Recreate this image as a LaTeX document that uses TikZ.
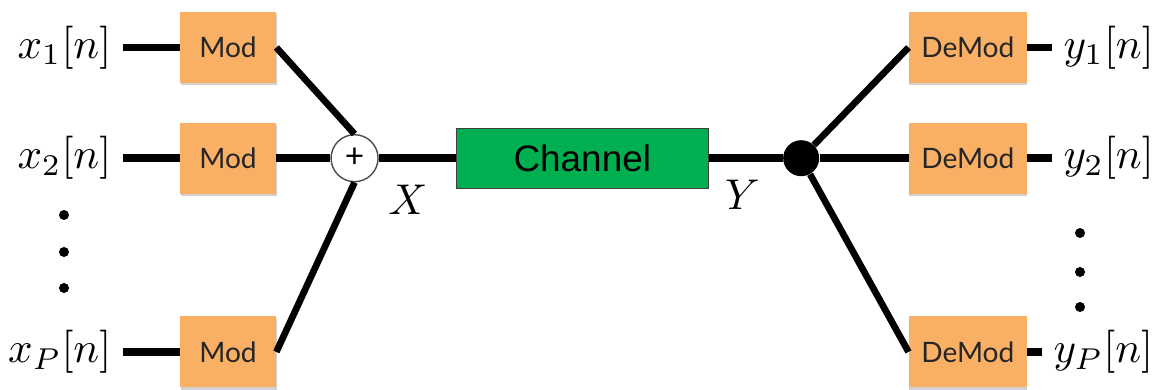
\documentclass[tikz,border=0pt]{standalone}
\usepackage{fontspec}
\usepackage{amsmath}
\usepackage{graphicx}
\usepackage{xcolor}
\usepackage{tikz}
\usetikzlibrary{positioning, shadows}

\newfontfamily\boxfont{Lato}
\newfontfamily\chanfont{Liberation Sans}
\definecolor{modorange}{RGB}{249,176,101}
\definecolor{changreen}{RGB}{0,176,80}
\newcommand{\bigsig}[1]{\scalebox{2.45}{$#1$}}

\begin{document}
\begin{tikzpicture}[
  mod/.style={
    rectangle, fill=modorange, draw=none,
    minimum width=1.92cm, minimum height=1.42cm,
    font=\fontsize{16}{18}\selectfont\boxfont, text=black!85,
    drop shadow={shadow xshift=0.3pt, shadow yshift=-1.3pt,
                 opacity=0.3, fill=black!60}},
  demod/.style={mod, minimum width=2.36cm},
  chan/.style={
    rectangle, draw=black!75, line width=0.6pt, fill=changreen,
    minimum width=5.04cm, minimum height=1.2cm,
    font=\fontsize{21}{24}\selectfont\chanfont},
  adder/.style={
    circle, draw=black!70, line width=0.8pt, fill=white,
    minimum size=0.94cm, inner sep=0pt,
    font=\fontsize{19}{19}\selectfont\boxfont},
  split/.style={circle, fill=black, minimum size=0.72cm, inner sep=0pt},
  sig/.style={inner sep=0.22cm},
  wire/.style={line width=4.4pt},
  branch/.style={line width=3.8pt}
]

\useasboundingbox (0,0) rectangle (23.16,7.8);

%% Modulators and adder
\node[mod]                       (mod1) at (4.56,6.85) {Mod};
\node[mod, below=0.78cm of mod1] (mod2) {Mod};
\node[mod, below=2.44cm of mod2] (modP) {Mod};
\node[adder, right=1.08cm of mod2] (sum) {\raisebox{-2pt}{+}};

%% Channel and splitter
\node[chan,  right=1.54cm of sum]  (chan) {Channel};
\node[split, right=1.48cm of chan] (dot)  {};

%% Demodulators
\node[demod, right=1.78cm of dot]     (demod2) {DeMod};
\node[demod, above=0.78cm of demod2]  (demod1) {DeMod};
\node[demod, below=2.44cm of demod2]  (demodP) {DeMod};

%% Signals
\node[sig, left=1.14cm of mod1]    (x1) {\bigsig{x_1[n]}};
\node[sig, left=1.14cm of mod2]    (x2) {\bigsig{x_2[n]}};
\node[sig, left=1.14cm of modP]    (xP) {\bigsig{x_P[n]}};
\node[sig, right=0.5cm of demod1]  (y1) {\bigsig{y_1[n]}};
\node[sig, right=0.5cm of demod2]  (y2) {\bigsig{y_2[n]}};
\node[sig, right=0.3cm of demodP]  (yP) {\bigsig{y_P[n]}};
\node[sig] (xlab) at (8.16,3.8) {\bigsig{X}};
\node[sig] (ylab) at (14.85,3.9) {\bigsig{Y}};

%% Vertical dots
\foreach \y in {3.5,2.76,2.04}
  \fill (1.28,\y) circle (0.1);
\foreach \y in {3.14,2.36,1.66}
  \fill (21.6,\y) circle (0.1);

%% Wires
\draw[wire] (x1) -- (mod1);
\draw[wire] (x2) -- (mod2);
\draw[wire] (xP) -- (modP);
\draw[branch] (mod1.east) -- (sum.north);
\draw[wire]   (mod2) -- (sum);
\draw[branch] (modP.east) -- (sum.south);
\draw[wire] (sum)  -- (chan);
\draw[wire] (chan) -- (dot);
\draw[branch] (dot) -- (demod1.west);
\draw[wire]   (dot) -- (demod2);
\draw[branch] (dot) -- (demodP.west);
\draw[wire] (demod1) -- (y1);
\draw[wire] (demod2) -- (y2);
\draw[wire] (demodP) -- (yP);

\end{tikzpicture}
\end{document}
